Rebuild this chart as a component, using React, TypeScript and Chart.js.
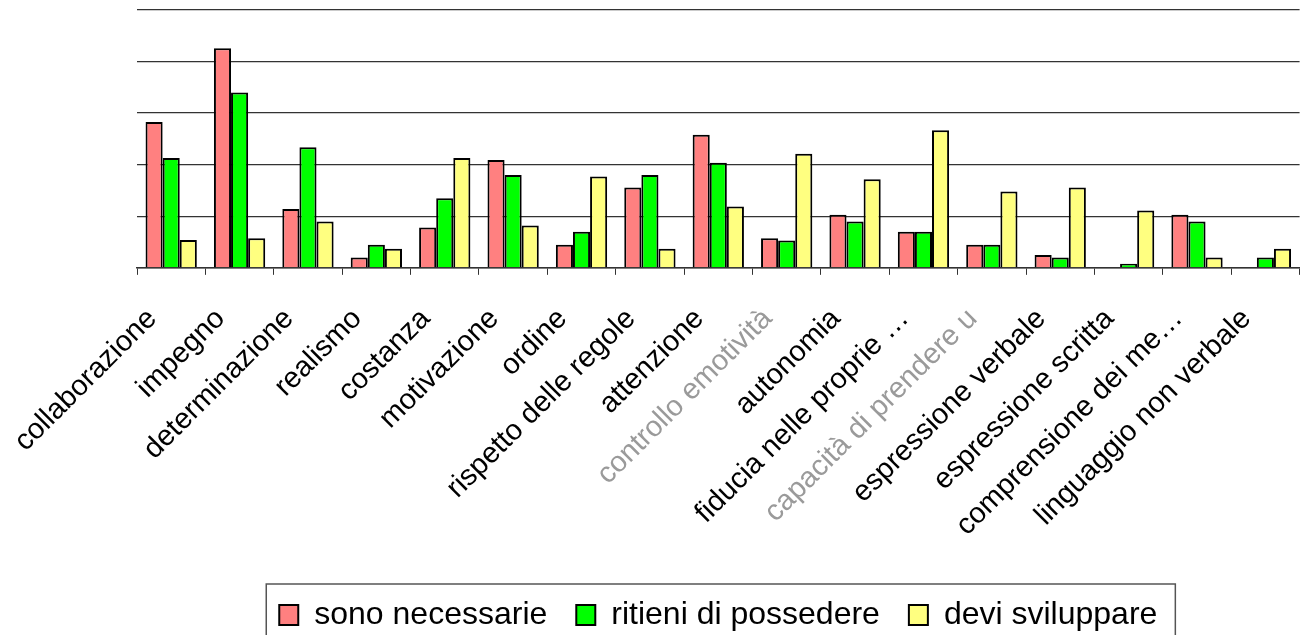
import React, { useEffect, useRef } from "react";
import { Chart, registerables } from "chart.js";

Chart.register(...registerables);

const categories = [
  "collaborazione",
  "impegno",
  "determinazione",
  "realismo",
  "costanza",
  "motivazione",
  "ordine",
  "rispetto delle regole",
  "attenzione",
  "controllo emotività",
  "autonomia",
  "fiducia nelle proprie …",
  "capacità di prendere u",
  "espressione verbale",
  "espressione scritta",
  "comprensione dei me…",
  "linguaggio non verbale",
];

const fadedLabels = [9, 12];

const sonoNecessarie = [14.15, 21.3, 5.7, 1.0, 3.9, 10.45, 2.25, 7.8, 12.9, 2.86, 5.15, 3.5, 2.25, 1.25, 0, 5.15, 0];
const ritieniDiPossedere = [10.65, 17.0, 11.7, 2.25, 6.75, 9.0, 3.5, 9.0, 10.2, 2.66, 4.5, 3.5, 2.25, 1.0, 0.4, 4.5, 1.0];
const deviSviluppare = [2.7, 2.86, 4.5, 1.86, 10.65, 4.1, 8.85, 1.86, 5.95, 11.06, 8.6, 13.35, 7.4, 7.8, 5.56, 1.0, 1.86];

const yTicks = [0, 5, 10, 15, 20, 25];

const FONT = "'Liberation Sans', Arial, sans-serif";

const legendBorder = {
  id: "legendBorder",
  afterDraw(chart: any) {
    const lg = chart.legend;
    if (!lg || !lg.legendHitBoxes || !lg.legendHitBoxes.length) return;
    const hb = lg.legendHitBoxes;
    let l = Infinity, r = -Infinity, t = Infinity;
    hb.forEach((b: any) => {
      l = Math.min(l, b.left);
      r = Math.max(r, b.left + b.width);
      t = Math.min(t, b.top);
    });
    const ctx = chart.ctx;
    ctx.save();
    ctx.strokeStyle = "#555";
    ctx.lineWidth = 1.5;
    ctx.strokeRect(l - 13, t - 15, r - l + 31, 90);
    ctx.restore();
  },
};

export default function App() {
  const ref = useRef<HTMLCanvasElement | null>(null);
  useEffect(() => {
    if (!ref.current) return;
    const chart = new Chart(ref.current, {
      type: "bar",
      data: {
        labels: categories,
        datasets: [
          {
            label: "sono necessarie",
            data: sonoNecessarie,
            backgroundColor: "#FF8080",
            borderColor: "#000",
            borderWidth: 2,
          },
          {
            label: "ritieni di possedere",
            data: ritieniDiPossedere,
            backgroundColor: "#00FF00",
            borderColor: "#000",
            borderWidth: 2,
          },
          {
            label: "devi sviluppare",
            data: deviSviluppare,
            backgroundColor: "#FFFF80",
            borderColor: "#000",
            borderWidth: 2,
          },
        ],
      },
      options: {
        responsive: true,
        maintainAspectRatio: false,
        animation: false,
        datasets: { bar: { categoryPercentage: 0.75, barPercentage: 1 } },
        layout: { padding: { top: 10, right: 0, left: 137, bottom: -6 } },
        plugins: {
          tooltip: { enabled: false },
          legend: {
            position: "bottom",
            fullSize: false,
            labels: {
              font: { family: FONT, size: 32 },
              color: "#000",
              boxWidth: 19,
              boxHeight: 20,
              padding: 29,
            },
          },
        },
        scales: {
          x: {
            grid: {
              display: true,
              drawOnChartArea: false,
              drawTicks: true,
              tickLength: 7,
              color: "#333",
              offset: true,
            },
            border: { display: true, color: "#333", width: 1.5 },
            ticks: {
              autoSkip: false,
              maxRotation: 45,
              minRotation: 45,
              labelOffset: -19,
              font: { family: FONT, size: 29 },
              color: (c: any) => (fadedLabels.includes(c.index) ? "#9a9a9a" : "#000"),
              padding: 27,
            },
          },
          y: {
            min: yTicks[0],
            max: yTicks[yTicks.length - 1],
            afterBuildTicks: (s: any) => {
              s.ticks = yTicks.map((v) => ({ value: v }));
            },
            ticks: { display: false },
            grid: { color: "#333", lineWidth: 1.3, drawTicks: false },
            border: { display: false },
          },
        },
      },
      plugins: [legendBorder],
    });
    return () => chart.destroy();
  }, []);
  return (
    <div style={{ position: "absolute", left: 0, top: 0, width: 1311, height: 635, overflow: "hidden", background: "#fff" }}>
      <div style={{ position: "relative", width: 1317, height: 635 }}>
        <canvas ref={ref} />
      </div>
    </div>
  );
}
